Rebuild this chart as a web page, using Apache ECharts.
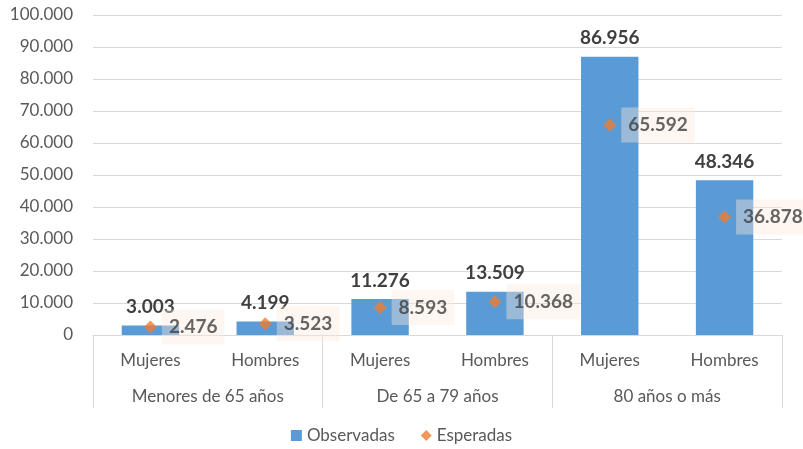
<!DOCTYPE html>
<html>
<head>
<meta charset="utf-8">
<script src="https://cdn.jsdelivr.net/npm/echarts@6/dist/echarts.min.js"></script>
<style>
  html, body { margin: 0; padding: 0; background: #fff; }
  #chart { width: 803px; height: 449px; }
</style>
</head>
<body>
<div id="chart"></div>
<script>
// datos
const sexos = ['Mujeres', 'Hombres', 'Mujeres', 'Hombres', 'Mujeres', 'Hombres'];
const grupos = ['Menores de 65 años', 'De 65 a 79 años', '80 años o más'];
const observadas = [3003, 4199, 11276, 13509, 86956, 48346];
const esperadas = [2476, 3523, 8593, 10368, 65592, 36878];

// separador de miles con punto
function fmt(v) {
  return String(Math.round(v)).replace(/\B(?=(\d{3})+(?!\d))/g, '.');
}

const font = 'Lato';
let chart = echarts.init(document.getElementById('chart'));

chart.setOption({
  animation: false,
  textStyle: { fontFamily: font },
  grid: { left: 93, right: 21, top: 15, bottom: 114 },
  legend: {
    bottom: 0,
    left: 'center',
    itemWidth: 11,
    itemHeight: 11,
    itemGap: 26,
    textStyle: { color: '#595959', fontSize: 17, fontFamily: font },
    data: [
      { name: 'Observadas', icon: 'rect' },
      { name: 'Esperadas', icon: 'diamond' }
    ]
  },
  xAxis: [
    {
      type: 'category',
      data: sexos,
      axisLine: { lineStyle: { color: '#d9d9d9' } },
      axisTick: { show: false },
      axisLabel: { color: '#595959', fontSize: 17, margin: 17, fontFamily: font }
    },
    {
      type: 'category',
      data: grupos,
      position: 'bottom',
      axisLine: { show: false },
      axisTick: { show: true, length: 73, lineStyle: { color: '#d9d9d9' } },
      axisLabel: { color: '#595959', fontSize: 17, margin: 53, fontFamily: font },
      splitLine: { show: false }
    }
  ],
  yAxis: {
    type: 'value',
    min: 0,
    max: 100000,
    interval: 10000,
    axisLine: { show: false },
    axisTick: { show: false },
    splitLine: { lineStyle: { color: '#d9d9d9' } },
    axisLabel: {
      color: '#595959',
      fontSize: 17,
      margin: 20,
      fontFamily: font,
      formatter: fmt
    }
  },
  series: [
    {
      name: 'Observadas',
      type: 'bar',
      barWidth: '50%',
      data: observadas,
      itemStyle: { color: '#5b9bd5' },
      label: {
        show: true,
        position: 'top',
        distance: 9,
        color: '#404040',
        fontSize: 19,
        fontWeight: 'bold',
        fontFamily: font,
        formatter: p => fmt(p.value)
      }
    },
    {
      name: 'Esperadas',
      type: 'scatter',
      symbol: 'diamond',
      symbolSize: 13,
      data: esperadas,
      itemStyle: { color: '#ed7d31' },
      label: {
        show: true,
        position: 'right',
        distance: 5,
        color: '#404040',
        fontSize: 19,
        fontWeight: 'bold',
        fontFamily: font,
        backgroundColor: 'rgba(253,233,217,0.5)',
        padding: [8, 7, 8, 7],
        formatter: p => fmt(p.value)
      }
    }
  ]
});
</script>
</body>
</html>
